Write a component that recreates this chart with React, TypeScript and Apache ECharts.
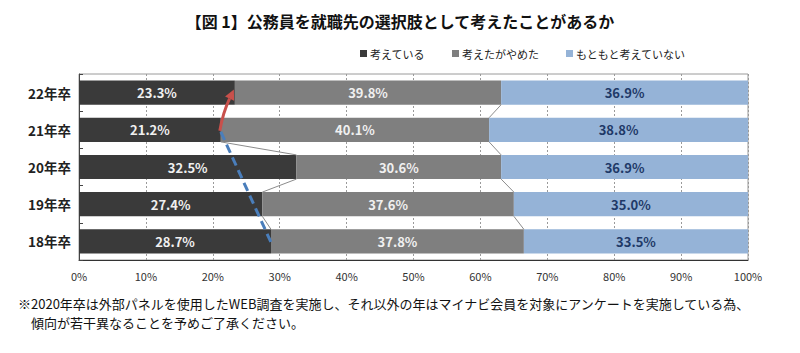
import React, { useEffect, useRef } from "react";
import * as echarts from "echarts";

const categories = ["22年卒", "21年卒", "20年卒", "19年卒", "18年卒"];
const considered = [23.3, 21.2, 32.5, 27.4, 28.7];
const gaveUp = [39.8, 40.1, 30.6, 37.6, 37.8];
const never = [36.9, 38.8, 36.9, 35.0, 33.5];
const seriesNames = ["考えている", "考えたがやめた", "もともと考えていない"];
const xTicks = [0, 10, 20, 30, 40, 50, 60, 70, 80, 90, 100];
const titleText = "【図 1】公務員を就職先の選択肢として考えたことがあるか";
const noteLines = [
  "※2020年卒は外部パネルを使用したWEB調査を実施し、それ以外の年はマイナビ会員を対象にアンケートを実施している為、",
  "　傾向が若干異なることを予めご了承ください。",
];

const FONT = "'Noto Sans CJK JP', 'Noto Sans', sans-serif";
const BAR_RATIO = 0.65;

export default function App() {
  const ref = useRef<HTMLDivElement>(null);
  useEffect(() => {
    document.body.style.margin = "0";
    if (!ref.current) return;
    const chart = echarts.init(ref.current, undefined, { renderer: "svg" });

    const cum1 = considered.map((v) => v);
    const cum2 = considered.map((v, i) => v + gaveUp[i]);
    const connectors: number[][] = [];
    for (let i = 0; i < categories.length - 1; i++) {
      if (i !== 0) connectors.push([cum1[i], i, cum1[i + 1], i + 1]);
      connectors.push([cum2[i], i, cum2[i + 1], i + 1]);
    }

    const labelBase = {
      show: true,
      position: "inside" as const,
      fontSize: 13,
      fontWeight: "bold" as const,
      fontFamily: FONT,
      formatter: (p: any) => p.value.toFixed(1) + "%",
    };

    const option: any = {
      animation: false,
      textStyle: { fontFamily: FONT },
      title: {
        text: titleText,
        left: "center",
        top: 8,
        textStyle: { fontSize: 16, fontWeight: "bold", color: "#111", fontFamily: FONT },
      },
      legend: {
        data: seriesNames,
        left: 355,
        top: 43,
        icon: "rect",
        itemWidth: 7,
        itemHeight: 7,
        itemGap: 27,
        textStyle: { fontSize: 11, color: "#222", fontFamily: FONT, padding: [0, 0, 0, -2] },
      },
      grid: {
        left: 79,
        right: 52,
        top: 74,
        bottom: 93,
        show: true,
        borderColor: "#9a9a9a",
        borderWidth: 1,
      },
      xAxis: {
        type: "value",
        min: 0,
        max: 100,
        interval: 10,
        axisLine: { show: true, lineStyle: { color: "#333" } },
        axisTick: { show: false },
        splitLine: { show: true, lineStyle: { color: "#9a9a9a", type: [2, 2], width: 1 } },
        axisLabel: {
          formatter: (v: number) => (xTicks.includes(v) ? v + "%" : ""),
          fontSize: 11,
          color: "#333",
          margin: 10,
          fontFamily: FONT,
        },
      },
      yAxis: {
        type: "category",
        data: categories,
        inverse: true,
        axisLine: { show: true, lineStyle: { color: "#444" } },
        axisTick: { show: true, inside: true, length: 4, lineStyle: { color: "#444" } },
        axisLabel: { fontSize: 13.5, fontWeight: "bold", color: "#222", margin: 8, fontFamily: FONT },
      },
      series: [
        {
          name: seriesNames[0],
          type: "bar",
          stack: "total",
          barWidth: BAR_RATIO * 100 + "%",
          data: considered,
          itemStyle: { color: "#3a3a3a" },
          label: { ...labelBase, color: "#f0f0f0" },
        },
        {
          name: seriesNames[1],
          type: "bar",
          stack: "total",
          data: gaveUp,
          itemStyle: { color: "#7f7f7f" },
          label: { ...labelBase, color: "#f0f0f0" },
        },
        {
          name: seriesNames[2],
          type: "bar",
          stack: "total",
          data: never,
          itemStyle: { color: "#95b3d7" },
          label: { ...labelBase, color: "#1f3a68" },
        },
        {
          type: "custom",
          silent: true,
          z: 3,
          data: connectors,
          renderItem: (params: any, api: any) => {
            const h = (api.size([0, 1])[1] * BAR_RATIO) / 2;
            const a = api.coord([api.value(0), api.value(1)]);
            const b = api.coord([api.value(2), api.value(3)]);
            return {
              type: "line",
              shape: { x1: a[0], y1: a[1] + h, x2: b[0], y2: b[1] - h },
              style: { stroke: "#8c8c8c", lineWidth: 1 },
            };
          },
        },
        {
          type: "custom",
          silent: true,
          z: 5,
          data: [[considered[1], 1, considered[4], 4]],
          renderItem: (params: any, api: any) => {
            const a = api.coord([api.value(0), api.value(1)]);
            const b = api.coord([api.value(2), api.value(3)]);
            return {
              type: "line",
              shape: { x1: a[0], y1: a[1] + 2, x2: b[0], y2: b[1] + 1 },
              style: { stroke: "#4a7ebb", lineWidth: 3, lineDash: [9, 5] },
            };
          },
        },
        {
          type: "custom",
          silent: true,
          z: 6,
          data: [[considered[1], 1, considered[0], 0]],
          renderItem: (params: any, api: any) => {
            const a = api.coord([api.value(0), api.value(1)]);
            const b = api.coord([api.value(2), api.value(3)]);
            const start = [a[0] - 1, a[1] + 1];
            const tip = [b[0] - 1, b[1] - 3];
            const cp = [start[0] + 3, start[1] - 18];
            const dx = tip[0] - cp[0];
            const dy = tip[1] - cp[1];
            const len = Math.sqrt(dx * dx + dy * dy);
            const ux = dx / len;
            const uy = dy / len;
            const L = 10;
            const W = 5;
            const base = [tip[0] - ux * L, tip[1] - uy * L];
            return {
              type: "group",
              children: [
                {
                  type: "bezierCurve",
                  shape: { x1: start[0], y1: start[1], x2: base[0], y2: base[1], cpx1: cp[0], cpy1: cp[1] },
                  style: { stroke: "#c8504b", lineWidth: 3, fill: null },
                },
                {
                  type: "polygon",
                  shape: {
                    points: [
                      tip,
                      [base[0] - uy * W, base[1] + ux * W],
                      [base[0] + uy * W, base[1] - ux * W],
                    ],
                  },
                  style: { fill: "#c8504b" },
                },
              ],
            };
          },
        },
      ],
      graphic: [
        {
          type: "text",
          left: 18,
          top: 297,
          style: { text: noteLines[0], fontSize: 13, fill: "#111", fontFamily: FONT },
        },
        {
          type: "text",
          left: 18,
          top: 316,
          style: { text: noteLines[1], fontSize: 13, fill: "#111", fontFamily: FONT },
        },
      ],
    };
    chart.setOption(option);
    return () => chart.dispose();
  }, []);
  return <div ref={ref} style={{ width: 800, height: 353 }} />;
}
